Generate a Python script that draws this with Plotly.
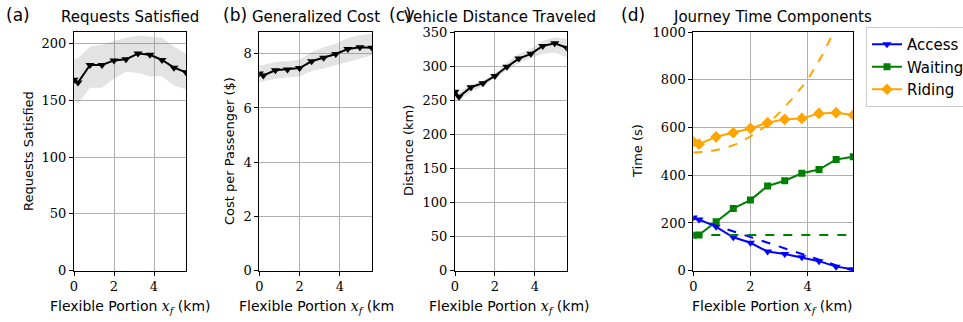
import plotly.graph_objects as go

W, H = 963, 322

# ---------------- data ----------------
x_flex = [0.0, 0.2, 0.8, 1.4, 2.0, 2.6, 3.2, 3.8, 4.4, 5.0, 5.6]

req_mean = [168, 165.5, 181, 181, 185, 186, 191, 190, 185.4, 178.6, 174.6]
req_upper = [186, 187, 197, 199, 202, 205, 207, 206, 205, 197, 191]
req_lower = [151, 147, 161, 161, 169, 175, 174, 171, 171, 163, 159.6]

cost_mean = [7.27, 7.20, 7.39, 7.42, 7.47, 7.72, 7.85, 7.99, 8.17, 8.24, 8.22]
cost_upper = [7.57, 7.58, 7.69, 7.72, 7.78, 8.06, 8.24, 8.37, 8.58, 8.68, 8.74]
cost_lower = [6.96, 6.98, 7.08, 7.13, 7.17, 7.36, 7.45, 7.57, 7.69, 7.82, 7.94]

dist_mean = [262.5, 255, 269, 275, 285.5, 299, 311, 318, 329.5, 333.4, 327]
dist_upper = [265, 262, 273, 279, 290, 305, 318, 325, 337, 342, 340]
dist_lower = [250, 250, 262, 270, 282, 293, 305, 312, 318, 320, 313]

access = [223, 215, 184, 140, 117, 80, 70, 56, 40, 17, 6]
waiting = [148, 150, 205, 261, 296, 355, 377, 408, 424, 466, 477]
riding = [540, 530, 561, 578, 596, 620, 634, 638, 659, 662, 652]

x_model = [0.0, 0.5, 1.0, 1.5, 2.0, 2.5, 3.0, 3.5, 4.0, 4.5, 5.0, 5.5, 5.6]
access_model = [220, 200, 181, 162, 142, 122, 102, 81, 60, 40, 21, 3, 0]
waiting_model = [150, 150, 150, 150, 150, 150, 150, 150, 150, 150, 150, 150, 150]
riding_model = [495, 498, 510, 530, 562, 603, 660, 725, 800, 900, 1020, 1160, 1190]

x_ticks = [0, 2, 4]
panel_titles = ["Requests Satisfied", "Generalized Cost", "Vehicle Distance Traveled", "Journey Time Components"]
panel_letters = ["(a)", "(b)", "(c)", "(d)"]
y_titles = ["Requests Satisfied", "Cost per Passenger ($)", "Distance (km)", "Time (s)"]
y_ranges = [[0, 210], [0, 8.8], [0, 350], [0, 1000]]
y_dticks = [50, 2, 50, 200]

# ---------------- layout geometry (pixels) ----------------
x_px = [(74, 186), (259.3, 372), (455, 566.7), (693.3, 853.3)]
y_top, y_bot = 32, 270.7
title_cx = [130, 315.5, 500, 772]
letter_cx = [18, 235, 400, 633]
ylab_cx = [28, 229, 408, 637]
xlab_cx = [130, 316, 510, 772]

SANS = "DejaVu Sans"
SERIF = "DejaVu Serif"

fig = go.Figure()

band_fill = "rgba(128,128,128,0.22)"
mk = dict(symbol="triangle-down", size=8, color="black")

for i, (mean, up, lo) in enumerate([(req_mean, req_upper, req_lower),
                                     (cost_mean, cost_upper, cost_lower),
                                     (dist_mean, dist_upper, dist_lower)]):
    ax = "" if i == 0 else str(i + 1)
    fig.add_trace(go.Scatter(x=x_flex, y=lo, mode="lines", line=dict(width=0, color="rgba(0,0,0,0)"),
                             xaxis="x" + ax, yaxis="y" + ax, showlegend=False, hoverinfo="skip"))
    fig.add_trace(go.Scatter(x=x_flex, y=up, mode="lines", line=dict(width=0, color="rgba(0,0,0,0)"),
                             fill="tonexty", fillcolor=band_fill,
                             xaxis="x" + ax, yaxis="y" + ax, showlegend=False, hoverinfo="skip"))
    fig.add_trace(go.Scatter(x=x_flex, y=mean, mode="lines+markers", line=dict(width=2, color="black"),
                             marker=mk, xaxis="x" + ax, yaxis="y" + ax, showlegend=False))

# panel d
fig.add_trace(go.Scatter(x=x_flex, y=access, name="Access", mode="lines+markers",
                         line=dict(color="#0000ff", width=2),
                         marker=dict(symbol="triangle-down", size=8, color="#0000ff"),
                         xaxis="x4", yaxis="y4"))
fig.add_trace(go.Scatter(x=x_flex, y=waiting, name="Waiting", mode="lines+markers",
                         line=dict(color="#008000", width=2),
                         marker=dict(symbol="square", size=7, color="#008000"),
                         xaxis="x4", yaxis="y4"))
fig.add_trace(go.Scatter(x=x_flex, y=riding, name="Riding", mode="lines+markers",
                         line=dict(color="#ffa500", width=2),
                         marker=dict(symbol="diamond", size=9, color="#ffa500"),
                         xaxis="x4", yaxis="y4"))
for ym, c in [(access_model, "#0000ff"), (waiting_model, "#008000"), (riding_model, "#ffa500")]:
    fig.add_trace(go.Scatter(x=x_model, y=ym, mode="lines", line=dict(color=c, width=2, dash="dash"),
                             xaxis="x4", yaxis="y4", showlegend=False))

layout = dict(
    width=W, height=H,
    margin=dict(l=0, r=0, t=0, b=0, autoexpand=False),
    paper_bgcolor="white", plot_bgcolor="white",
    showlegend=True,
    legend=dict(x=866 / W, y=1 - 27 / H, xanchor="left", yanchor="top",
                bordercolor="#cccccc", borderwidth=1, bgcolor="white",
                font=dict(family=SANS, size=15, color="black"),
                traceorder="normal", tracegroupgap=0),
)

for i in range(4):
    ax = "" if i == 0 else str(i + 1)
    x0, x1 = x_px[i]
    layout["xaxis" + ax] = dict(
        domain=[x0 / W, x1 / W], range=[0, 5.6], anchor="y" + ax,
        tickvals=x_ticks, ticks="outside", ticklen=4, tickcolor="black",
        showline=True, linecolor="black", linewidth=1, mirror=True,
        showgrid=True, gridcolor="#b0b0b0", gridwidth=1, zeroline=False,
        tickfont=dict(family=SERIF, size=13, color="black"),
    )
    layout["yaxis" + ax] = dict(
        domain=[1 - y_bot / H, 1 - y_top / H], range=y_ranges[i], anchor="x" + ax,
        dtick=y_dticks[i], tick0=0, ticks="outside", ticklen=4, tickcolor="black",
        showline=True, linecolor="black", linewidth=1, mirror=True,
        showgrid=True, gridcolor="#b0b0b0", gridwidth=1, zeroline=False,
        tickfont=dict(family=SERIF, size=13, color="black"),
    )

annotations = []
for i in range(4):
    annotations.append(dict(text=panel_titles[i], x=title_cx[i] / W, y=1 - 17 / H, xref="paper", yref="paper",
                            xanchor="center", yanchor="middle", showarrow=False,
                            font=dict(family=SANS, size=15, color="black")))
    annotations.append(dict(text=panel_letters[i], x=letter_cx[i] / W, y=1 - 15 / H, xref="paper", yref="paper",
                            xanchor="center", yanchor="middle", showarrow=False,
                            font=dict(family=SANS, size=17, color="black")))
    annotations.append(dict(text=y_titles[i], x=ylab_cx[i] / W, y=1 - 151 / H, xref="paper", yref="paper",
                            xanchor="center", yanchor="middle", showarrow=False, textangle=-90,
                            font=dict(family=SANS, size=13, color="black")))
    tail = " (km" if i == 1 else " (km)"
    annotations.append(dict(text="Flexible Portion <span style='font-family:DejaVu Serif'><i>x<sub>f</sub></i></span>" + tail,
                            x=xlab_cx[i] / W, y=1 - 307 / H, xref="paper", yref="paper",
                            xanchor="center", yanchor="middle", showarrow=False,
                            font=dict(family=SANS, size=14, color="black")))
layout["annotations"] = annotations

fig.update_layout(**layout)
fig.write_html("out.html", config={"displayModeBar": False},
               post_script="document.body.style.margin='0';document.body.style.overflow='hidden';")
